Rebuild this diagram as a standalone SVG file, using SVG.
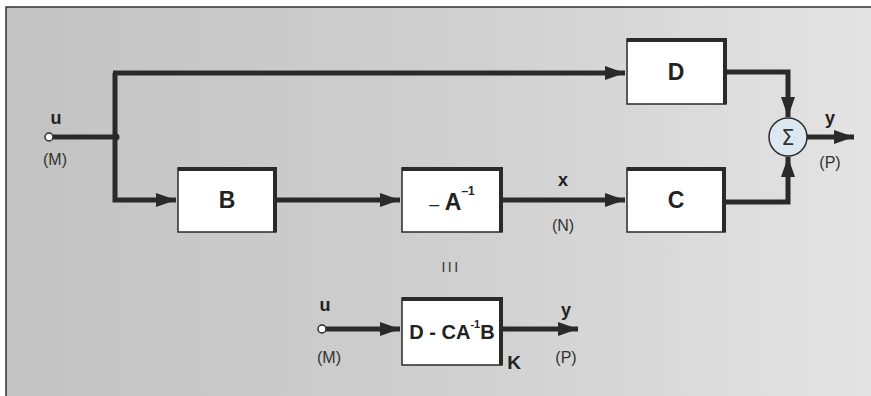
<svg xmlns="http://www.w3.org/2000/svg" width="871" height="396" viewBox="0 0 871 396">
<defs>
<linearGradient id="bg" x1="0" y1="0" x2="1" y2="0">
<stop offset="0" stop-color="#c3c3c3"/>
<stop offset="0.5" stop-color="#cfcfcf"/>
<stop offset="1" stop-color="#e4e4e4"/>
</linearGradient>
<marker id="arr" markerUnits="userSpaceOnUse" markerWidth="22" markerHeight="14" refX="20" refY="7" orient="auto">
<path d="M0,0 L20,7 L0,14 z" fill="#2a2a2a"/>
</marker>
<style>
.wire{fill:none;stroke:#2a2a2a;stroke-width:5;stroke-linejoin:miter}
.box{fill:#fff;stroke:#2a2a2a;stroke-width:1.5}
.sh{fill:none;stroke:#2a2a2a;stroke-width:4}
.lbl{font-family:"Liberation Sans",Arial,sans-serif;font-weight:bold;fill:#222;text-anchor:middle}
.big{font-size:23px}
.sig{font-size:18px}
.dim{font-family:"Liberation Sans",Arial,sans-serif;font-size:16px;fill:#333;text-anchor:middle}
.pt{fill:#fff;stroke:#2a2a2a;stroke-width:1.5}
</style>
</defs>
<rect x="6" y="7" width="880" height="400" fill="url(#bg)" stroke="#333" stroke-width="1.5"/>

<g id="connectors">
<path class="wire" d="M53,137 H115"/>
<path class="wire" d="M115,73 V200 H176" marker-end="url(#arr)"/>
<path class="wire" d="M113,73 H625" marker-end="url(#arr)"/>
<path class="wire" d="M276,200 H400" marker-end="url(#arr)"/>
<path class="wire" d="M502,200 H625" marker-end="url(#arr)"/>
<path class="wire" d="M726,72 H788 V117" marker-end="url(#arr)"/>
<path class="wire" d="M725,202 H788 V157" marker-end="url(#arr)"/>
<path class="wire" d="M807,137 H854" marker-end="url(#arr)"/>
<path class="wire" d="M326,329 H400" marker-end="url(#arr)"/>
<path class="wire" d="M502,329 H578" marker-end="url(#arr)"/>
<circle cx="116" cy="137" r="3.5" fill="#2a2a2a"/>
</g>

<g id="in-u">
<circle class="pt" cx="49" cy="137" r="4"/>
<text class="lbl sig" x="56" y="124">u</text>
<text class="dim" x="55" y="165">(M)</text>
</g>

<g id="node-B">
<rect class="box" x="178" y="168" width="98" height="64"/>
<path class="sh" d="M178,169 H275 V232"/>
<text class="lbl big" x="227" y="208">B</text>
</g>

<g id="node-A">
<rect class="box" x="402" y="168" width="100" height="64"/>
<path class="sh" d="M402,169 H501 V232"/>
<text class="lbl big" x="452" y="210"><tspan font-weight="normal" font-size="18">–</tspan> A<tspan font-size="12" dy="-15">–1</tspan></text>
</g>

<g id="label-x">
<text class="lbl sig" x="563" y="186">x</text>
<text class="dim" x="563" y="231">(N)</text>
</g>

<g id="node-C">
<rect class="box" x="627" y="168" width="98" height="64"/>
<path class="sh" d="M627,169 H724 V232"/>
<text class="lbl big" x="676" y="208">C</text>
</g>

<g id="node-D">
<rect class="box" x="627" y="39" width="99" height="65"/>
<path class="sh" d="M627,40 H725 V104"/>
<text class="lbl big" x="676" y="80">D</text>
</g>

<g id="node-sum">
<circle cx="788" cy="137" r="19" fill="#dce8f1" stroke="#2a2a2a" stroke-width="1.5"/>
<text x="788" y="145" font-family="'DejaVu Sans','Liberation Sans',sans-serif" font-size="21" fill="#333" text-anchor="middle">Σ</text>
</g>

<g id="out-y">
<text class="lbl sig" x="830" y="124">y</text>
<text class="dim" x="830" y="168">(P)</text>
</g>

<g id="equiv">
<text x="451" y="272" font-family="'Liberation Sans',Arial,sans-serif" font-size="14" letter-spacing="2.5" fill="#333" text-anchor="middle">III</text>
</g>

<g id="in-u2">
<circle class="pt" cx="322" cy="329" r="4"/>
<text class="lbl sig" x="325" y="311">u</text>
<text class="dim" x="329" y="363">(M)</text>
</g>

<g id="node-K">
<rect class="box" x="402" y="298" width="100" height="67"/>
<path class="sh" d="M402,299 H501 V365"/>
<text class="lbl" font-size="20" x="452" y="339">D - CA<tspan font-size="11" dy="-11">-1</tspan><tspan dy="11">B</tspan></text>
<text class="lbl" font-size="19" x="514" y="369">K</text>
</g>

<g id="out-y2">
<text class="lbl sig" x="566" y="316">y</text>
<text class="dim" x="566" y="363">(P)</text>
</g>
</svg>
